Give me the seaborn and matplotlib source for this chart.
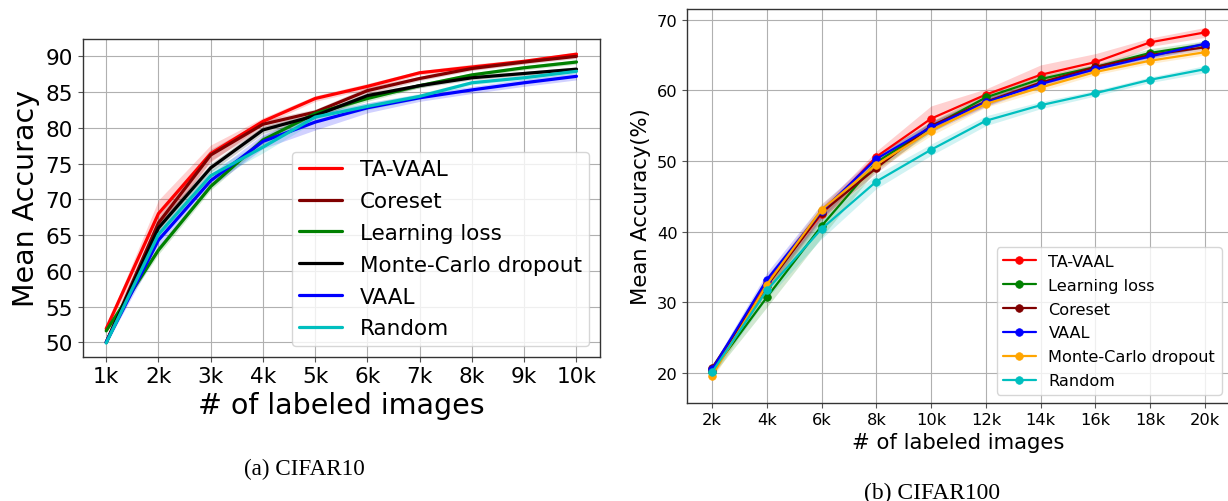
import numpy as np
import pandas as pd
import matplotlib
matplotlib.use("Agg")
import matplotlib.pyplot as plt
import seaborn as sns

# ---------------- data: CIFAR10 (left) ----------------
c10_x = [1, 2, 3, 4, 5, 6, 7, 8, 9, 10]
c10_xticklabels = ["1k", "2k", "3k", "4k", "5k", "6k", "7k", "8k", "9k", "10k"]
c10_methods = ["TA-VAAL", "Coreset", "Learning loss", "Monte-Carlo dropout", "VAAL", "Random"]
c10_colors = ["#ff0000", "#800000", "#008000", "#000000", "#0000ff", "#00bfbf"]
c10_tavaal = [51.9, 68.0, 76.4, 80.9, 84.1, 85.8, 87.7, 88.5, 89.3, 90.3]
c10_coreset = [50.0, 66.7, 76.2, 80.5, 82.2, 85.2, 86.9, 88.3, 89.2, 90.0]
c10_lloss = [51.6, 62.9, 71.8, 78.3, 82.0, 84.1, 85.9, 87.4, 88.4, 89.2]
c10_mcdrop = [50.0, 66.0, 74.4, 79.7, 81.7, 84.5, 85.9, 87.0, 87.6, 88.2]
c10_vaal = [50.0, 64.3, 72.6, 78.1, 80.8, 82.8, 84.2, 85.3, 86.3, 87.2]
c10_random = [49.9, 65.1, 73.3, 77.3, 81.5, 83.0, 84.4, 86.3, 87.0, 87.9]
c10_tavaal_std = [0.3, 1.9, 1.2, 0.5, 0.4, 0.4, 0.3, 0.4, 0.3, 0.3]
c10_coreset_std = [0.2, 1.0, 0.8, 0.6, 0.4, 0.5, 0.3, 0.3, 0.3, 0.3]
c10_lloss_std = [0.2, 0.6, 0.5, 0.6, 0.4, 0.4, 0.3, 0.3, 0.3, 0.3]
c10_mcdrop_std = [0.2, 0.8, 0.6, 0.5, 0.4, 0.4, 0.3, 0.3, 0.3, 0.3]
c10_vaal_std = [0.2, 1.2, 0.9, 1.0, 1.1, 0.7, 0.5, 0.5, 0.5, 0.5]
c10_random_std = [0.2, 1.0, 0.8, 0.8, 0.6, 0.5, 0.4, 0.3, 0.3, 0.3]

# ---------------- data: CIFAR100 (right) ----------------
c100_x = [2, 4, 6, 8, 10, 12, 14, 16, 18, 20]
c100_xticklabels = ["2k", "4k", "6k", "8k", "10k", "12k", "14k", "16k", "18k", "20k"]
c100_methods = ["TA-VAAL", "Learning loss", "Coreset", "VAAL", "Monte-Carlo dropout", "Random"]
c100_colors = ["#ff0000", "#008000", "#800000", "#0000ff", "#ffa500", "#00bfbf"]
c100_tavaal = [20.4, 32.7, 42.5, 50.6, 56.0, 59.4, 62.2, 64.0, 66.8, 68.2]
c100_lloss = [20.2, 30.7, 40.8, 49.8, 54.8, 59.0, 61.6, 63.3, 65.3, 66.5]
c100_coreset = [20.7, 32.3, 42.7, 49.0, 55.0, 58.4, 61.1, 63.3, 65.0, 66.1]
c100_vaal = [20.5, 33.2, 42.9, 50.3, 54.8, 58.3, 60.9, 63.0, 64.8, 66.6]
c100_mcdrop = [19.6, 32.5, 43.1, 49.5, 54.3, 58.1, 60.4, 62.6, 64.2, 65.4]
c100_random = [20.1, 31.7, 40.4, 47.1, 51.6, 55.7, 57.9, 59.6, 61.5, 63.0]
c100_tavaal_std = [0.5, 1.0, 1.0, 0.8, 1.8, 0.8, 1.4, 1.2, 0.6, 0.7]
c100_lloss_std = [0.6, 1.4, 1.6, 1.0, 0.8, 0.5, 0.5, 0.4, 0.6, 0.5]
c100_coreset_std = [0.5, 0.8, 0.8, 0.7, 0.6, 0.6, 0.4, 0.4, 0.4, 0.4]
c100_vaal_std = [0.5, 1.0, 1.0, 0.6, 0.7, 0.6, 0.4, 0.4, 0.4, 0.4]
c100_mcdrop_std = [0.6, 0.9, 0.9, 0.8, 0.7, 0.5, 0.5, 0.4, 0.4, 0.4]
c100_random_std = [0.5, 1.2, 1.4, 1.0, 0.8, 0.7, 0.5, 0.4, 0.4, 0.5]

sns.set_style("whitegrid")
plt.rcParams["font.family"] = ["DejaVu Sans"]
plt.rcParams.update({
    "axes.edgecolor": "#333333",
    "axes.linewidth": 1.0,
    "axes.labelcolor": "black",
    "text.color": "black",
    "grid.color": "#b0b0b0",
    "grid.linewidth": 0.8,
    "xtick.bottom": True,
    "ytick.left": True,
    "xtick.color": "#555555",
    "ytick.color": "#555555",
    "xtick.labelcolor": "black",
    "ytick.labelcolor": "black",
    "xtick.major.size": 3.5,
    "ytick.major.size": 3.5,
    "xtick.major.width": 0.8,
    "ytick.major.width": 0.8,
    "legend.fancybox": True,
})

fig = plt.figure(figsize=(12.28, 5.02), dpi=100)

# ---------------- left panel ----------------
ax1 = fig.add_axes([82.7 / 1228, 1 - 357.7 / 502, (600 - 82.7) / 1228, (357.7 - 40) / 502])
c10_vals = [c10_tavaal, c10_coreset, c10_lloss, c10_mcdrop, c10_vaal, c10_random]
c10_stds = [c10_tavaal_std, c10_coreset_std, c10_lloss_std, c10_mcdrop_std, c10_vaal_std, c10_random_std]
rows = []
for m, v in zip(c10_methods, c10_vals):
    for xx, yy in zip(c10_x, v):
        rows.append((m, xx, yy))
df10 = pd.DataFrame(rows, columns=["method", "x", "acc"])
for m, col, s in zip(c10_methods, c10_colors, c10_stds):
    d = df10[df10.method == m]
    sns.lineplot(data=d, x="x", y="acc", ax=ax1, color=col, lw=2.3, label=m)
    ax1.fill_between(d["x"], d["acc"] - np.array(s), d["acc"] + np.array(s),
                     color=col, alpha=0.18, lw=0)
ax1.set_xlim(0.55, 10.45)
ax1.set_ylim(47.99, 92.42)
ax1.set_xticks(c10_x)
ax1.set_xticklabels(c10_xticklabels)
ax1.set_yticks([50, 55, 60, 65, 70, 75, 80, 85, 90])
ax1.tick_params(labelsize=15.6)
ax1.set_xlabel("# of labeled images", fontsize=20.5, labelpad=3)
ax1.set_ylabel("Mean Accuracy", fontsize=20.5, labelpad=4)
ax1.legend(loc="lower right", fontsize=15.5, labelspacing=0.55, borderpad=0.35,
           handlelength=2.0, handletextpad=0.8, framealpha=0.8, edgecolor="#cccccc")
ax1.grid(True)

# ---------------- right panel ----------------
ax2 = fig.add_axes([687.3 / 1228, 1 - 403.7 / 502, (1229.7 - 687.3) / 1228, (403.7 - 10.3) / 502])
c100_vals = [c100_tavaal, c100_lloss, c100_coreset, c100_vaal, c100_mcdrop, c100_random]
c100_stds = [c100_tavaal_std, c100_lloss_std, c100_coreset_std, c100_vaal_std, c100_mcdrop_std, c100_random_std]
rows = []
for m, v in zip(c100_methods, c100_vals):
    for xx, yy in zip(c100_x, v):
        rows.append((m, xx, yy))
df100 = pd.DataFrame(rows, columns=["method", "x", "acc"])
for m, col, s in zip(c100_methods, c100_colors, c100_stds):
    d = df100[df100.method == m]
    sns.lineplot(data=d, x="x", y="acc", ax=ax2, color=col, lw=1.6, label=m,
                 marker="o", markersize=5.5, markeredgecolor=col, markeredgewidth=0.5)
    ax2.fill_between(d["x"], d["acc"] - np.array(s), d["acc"] + np.array(s),
                     color=col, alpha=0.18, lw=0)
ax2.set_xlim(1.1, 20.9)
ax2.set_ylim(15.8, 71.47)
ax2.set_xticks(c100_x)
ax2.set_xticklabels(c100_xticklabels)
ax2.set_yticks([20, 30, 40, 50, 60, 70])
ax2.tick_params(labelsize=11.7)
ax2.set_xlabel("# of labeled images", fontsize=15.2, labelpad=3)
ax2.set_ylabel("Mean Accuracy(%)", fontsize=15.2, labelpad=4)
ax2.legend(loc="lower right", fontsize=11.6, labelspacing=0.55, borderpad=0.4,
           handlelength=2.0, handletextpad=0.8, framealpha=0.8, edgecolor="#cccccc")
ax2.grid(True)

# captions
fig.text(304.3 / 1228, 1 - 475 / 502, "(a) CIFAR10", ha="center", va="baseline",
         fontsize=16.7, family=["Liberation Serif", "DejaVu Serif"])
fig.text(931.7 / 1228, 1 - 499.3 / 502, "(b) CIFAR100", ha="center", va="baseline",
         fontsize=16.9, family=["Liberation Serif", "DejaVu Serif"])

fig.savefig("out.png", dpi=100)
